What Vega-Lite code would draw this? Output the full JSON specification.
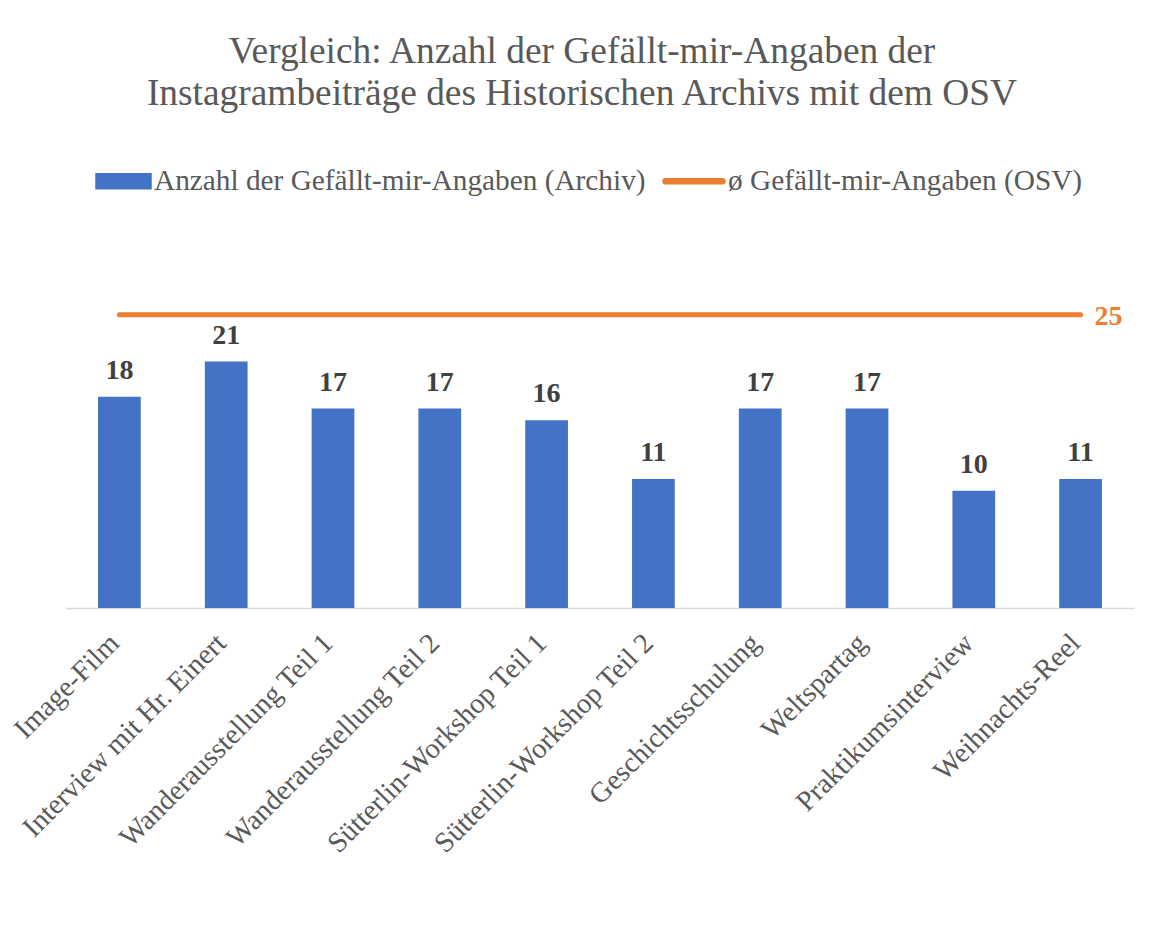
{
  "$schema": "https://vega.github.io/schema/vega-lite/v6.json",
  "width": 1068,
  "height": 352,
  "autosize": {"type": "none"},
  "padding": {"left": 66, "top": 256, "right": 24, "bottom": 329},
  "background": "white",
  "title": {
    "text": ["Vergleich: Anzahl der Gefällt-mir-Angaben der", "Instagrambeiträge des Historischen Archivs mit dem OSV"],
    "font": "Liberation Serif",
    "fontSize": 37.4,
    "fontWeight": "normal",
    "color": "#595959",
    "lineHeight": 42,
    "anchor": "middle",
    "frame": "group",
    "dx": -18,
    "offset": 37
  },
  "config": {"view": {"stroke": null}},
  "datasets": {
    "bars": [
      {"post": "Image-Film", "likes": 18, "series": "Anzahl der Gefällt-mir-Angaben (Archiv)"},
      {"post": "Interview mit Hr. Einert", "likes": 21, "series": "Anzahl der Gefällt-mir-Angaben (Archiv)"},
      {"post": "Wanderausstellung Teil 1", "likes": 17, "series": "Anzahl der Gefällt-mir-Angaben (Archiv)"},
      {"post": "Wanderausstellung Teil 2", "likes": 17, "series": "Anzahl der Gefällt-mir-Angaben (Archiv)"},
      {"post": "Sütterlin-Workshop Teil 1", "likes": 16, "series": "Anzahl der Gefällt-mir-Angaben (Archiv)"},
      {"post": "Sütterlin-Workshop Teil 2", "likes": 11, "series": "Anzahl der Gefällt-mir-Angaben (Archiv)"},
      {"post": "Geschichtsschulung", "likes": 17, "series": "Anzahl der Gefällt-mir-Angaben (Archiv)"},
      {"post": "Weltspartag", "likes": 17, "series": "Anzahl der Gefällt-mir-Angaben (Archiv)"},
      {"post": "Praktikumsinterview", "likes": 10, "series": "Anzahl der Gefällt-mir-Angaben (Archiv)"},
      {"post": "Weihnachts-Reel", "likes": 11, "series": "Anzahl der Gefällt-mir-Angaben (Archiv)"}
    ],
    "avg": [
      {"start": "Image-Film", "end": "Weihnachts-Reel", "value": 25, "series": "ø Gefällt-mir-Angaben (OSV)"}
    ]
  },
  "layer": [
    {
      "data": {"name": "bars"},
      "mark": {"type": "bar"},
      "encoding": {
        "x": {
          "field": "post",
          "type": "nominal",
          "sort": null,
          "scale": {
            "domain": ["Image-Film", "Interview mit Hr. Einert", "Wanderausstellung Teil 1", "Wanderausstellung Teil 2", "Sütterlin-Workshop Teil 1", "Sütterlin-Workshop Teil 2", "Geschichtsschulung", "Weltspartag", "Praktikumsinterview", "Weihnachts-Reel"],
            "paddingInner": 0.6,
            "paddingOuter": 0.3
          },
          "axis": {
            "title": null,
            "domainColor": "#d9d9d9",
            "domainWidth": 1.5,
            "ticks": false,
            "labelAngle": -45,
            "labelAlign": "right",
            "labelBaseline": "middle",
            "labelFont": "Liberation Serif",
            "labelFontSize": 28.5,
            "labelColor": "#595959",
            "labelPadding": 30,
            "labelOffset": -5,
            "labelLimit": 1000,
            "labelOverlap": false
          }
        },
        "y": {"field": "likes", "type": "quantitative", "scale": {"domain": [0, 30]}, "axis": null},
        "color": {
          "field": "series",
          "type": "nominal",
          "scale": {
            "domain": ["Anzahl der Gefällt-mir-Angaben (Archiv)", "ø Gefällt-mir-Angaben (OSV)"],
            "range": ["#4472C4", "#ED7D31"]
          },
          "legend": {
            "title": null,
            "orient": "none",
            "direction": "horizontal",
            "legendX": 22,
            "legendY": -107,
            "labelFont": "Liberation Serif",
            "labelFontSize": 29.3,
            "labelColor": "#595959",
            "labelLimit": 1000,
            "labelOffset": 2,
            "columnPadding": 14,
            "symbolSize": 3844,
            "encode": {
              "symbols": {
                "update": {
                  "shape": [
                    {"test": "datum.value === 'ø Gefällt-mir-Angaben (OSV)'", "value": "M-0.92,-0.08H0.92A0.08,0.08 0 0 1 0.92,0.08H-0.92A0.08,0.08 0 0 1 -0.92,-0.08Z"},
                    {"value": "M-0.774,-0.242H1V0.242H-0.774Z"}
                  ],
                  "fill": {"scale": "color", "field": "value"},
                  "stroke": {"value": "transparent"},
                  "opacity": {"value": 1},
                  "fillOpacity": {"value": 1}
                }
              }
            }
          }
        }
      }
    },
    {
      "data": {"name": "bars"},
      "mark": {"type": "text", "baseline": "alphabetic", "dy": -18, "font": "Liberation Serif", "fontSize": 28, "fontWeight": "bold", "color": "#404040"},
      "encoding": {
        "x": {"field": "post", "type": "nominal", "sort": null},
        "y": {"field": "likes", "type": "quantitative"},
        "text": {"field": "likes", "type": "quantitative"}
      }
    },
    {
      "data": {"name": "avg"},
      "mark": {"type": "rule", "strokeWidth": 5, "strokeCap": "round"},
      "encoding": {
        "x": {"field": "start", "type": "nominal"},
        "x2": {"field": "end"},
        "y": {"field": "value", "type": "quantitative"},
        "color": {"field": "series", "type": "nominal"}
      }
    },
    {
      "data": {"name": "avg"},
      "mark": {"type": "text", "align": "left", "baseline": "middle", "dx": 14, "dy": 2, "font": "Liberation Serif", "fontSize": 28, "fontWeight": "bold", "color": "#ED7D31"},
      "encoding": {
        "x": {"field": "end", "type": "nominal"},
        "y": {"field": "value", "type": "quantitative"},
        "text": {"field": "value", "type": "quantitative"}
      }
    }
  ]
}
